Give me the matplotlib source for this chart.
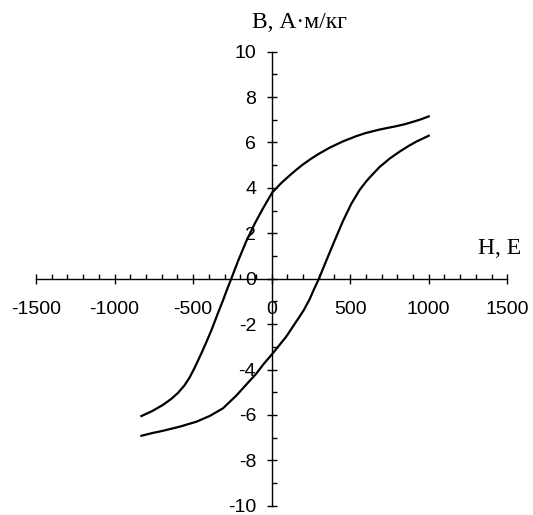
import numpy as np
from matplotlib import pyplot as plt
from matplotlib.ticker import MultipleLocator

plt.rcParams['axes.unicode_minus'] = False

## Data
# descending branch (left curve)
h_down = [-829, -760, -692, -640, -596, -555, -522, -490, -448, -416, -384, -342, -310, -288,
          -257, -215, -161, -108, -55, 4, 62, 115, 157, 199, 250, 300, 369, 454, 539, 600,
          687, 751, 794, 850, 899, 950, 1000]
b_down = [-6.05, -5.83, -5.56, -5.30, -5.03, -4.70, -4.35, -3.92, -3.30, -2.80, -2.28, -1.52,
          -0.96, -0.55, 0.0, 0.76, 1.66, 2.42, 3.10, 3.80, 4.22, 4.55, 4.80, 5.03, 5.28, 5.50,
          5.77, 6.05, 6.28, 6.42, 6.57, 6.66, 6.72, 6.81, 6.91, 7.02, 7.15]
# ascending branch (right curve)
h_up = [-829, -760, -692, -586, -479, -395, -310, -225, -140, -100, -50, 8, 50, 93, 167,
        205, 242, 270, 301, 348, 401, 454, 507, 560, 600, 624, 687, 751, 815, 870, 921, 1000]
b_up = [-6.92, -6.80, -6.70, -6.52, -6.30, -6.05, -5.71, -5.15, -4.50, -4.20, -3.75, -3.28,
        -2.92, -2.55, -1.78, -1.38, -0.90, -0.46, 0.0, 0.80, 1.68, 2.54, 3.30, 3.91, 4.27, 4.46,
        4.92, 5.29, 5.60, 5.84, 6.04, 6.30]

x_ticks = [-1500, -1000, -500, 0, 500, 1000, 1500]
y_ticks = [-10, -8, -6, -4, -2, 0, 2, 4, 6, 8, 10]

fig = plt.figure(figsize=(5.33, 5.15), dpi=100)
ax = fig.add_axes([36/533, 1 - 505.7/515, (507.3 - 36)/533, (505.7 - 51.7)/515])

ax.plot(h_down, b_down, color='black', lw=1.6, solid_joinstyle='round')
ax.plot(h_up, b_up, color='black', lw=1.6, solid_joinstyle='round')

ax.set_xlim(-1500, 1500)
ax.set_ylim(-10, 10)

ax.spines['left'].set_position(('data', 0))
ax.spines['bottom'].set_position(('data', 0))
ax.spines['right'].set_visible(False)
ax.spines['top'].set_visible(False)
for s in ['left', 'bottom']:
    ax.spines[s].set_linewidth(1.0)

ax.set_xticks(x_ticks)
ax.set_yticks(y_ticks)
ax.xaxis.set_minor_locator(MultipleLocator(100))
ax.yaxis.set_minor_locator(MultipleLocator(1))

ax.tick_params(which='major', direction='inout', length=7.5, width=1.0)
ax.tick_params(which='minor', direction='in', length=3.5, width=1.0)
ax.tick_params(axis='x', which='major', pad=12)
ax.tick_params(axis='y', which='major', pad=7.5)

for lab in ax.get_xticklabels() + ax.get_yticklabels():
    lab.set_fontfamily('Liberation Sans')
    lab.set_fontsize(14)

fig.text(299/533, 1 - 22/515, 'B, А·м/кг', family='Liberation Serif', fontsize=17,
         ha='center', va='center')
fig.text(500/533, 1 - 248/515, 'H, Е', family='Liberation Serif', fontsize=17,
         ha='center', va='center')

plt.savefig('out.png', dpi=100)
